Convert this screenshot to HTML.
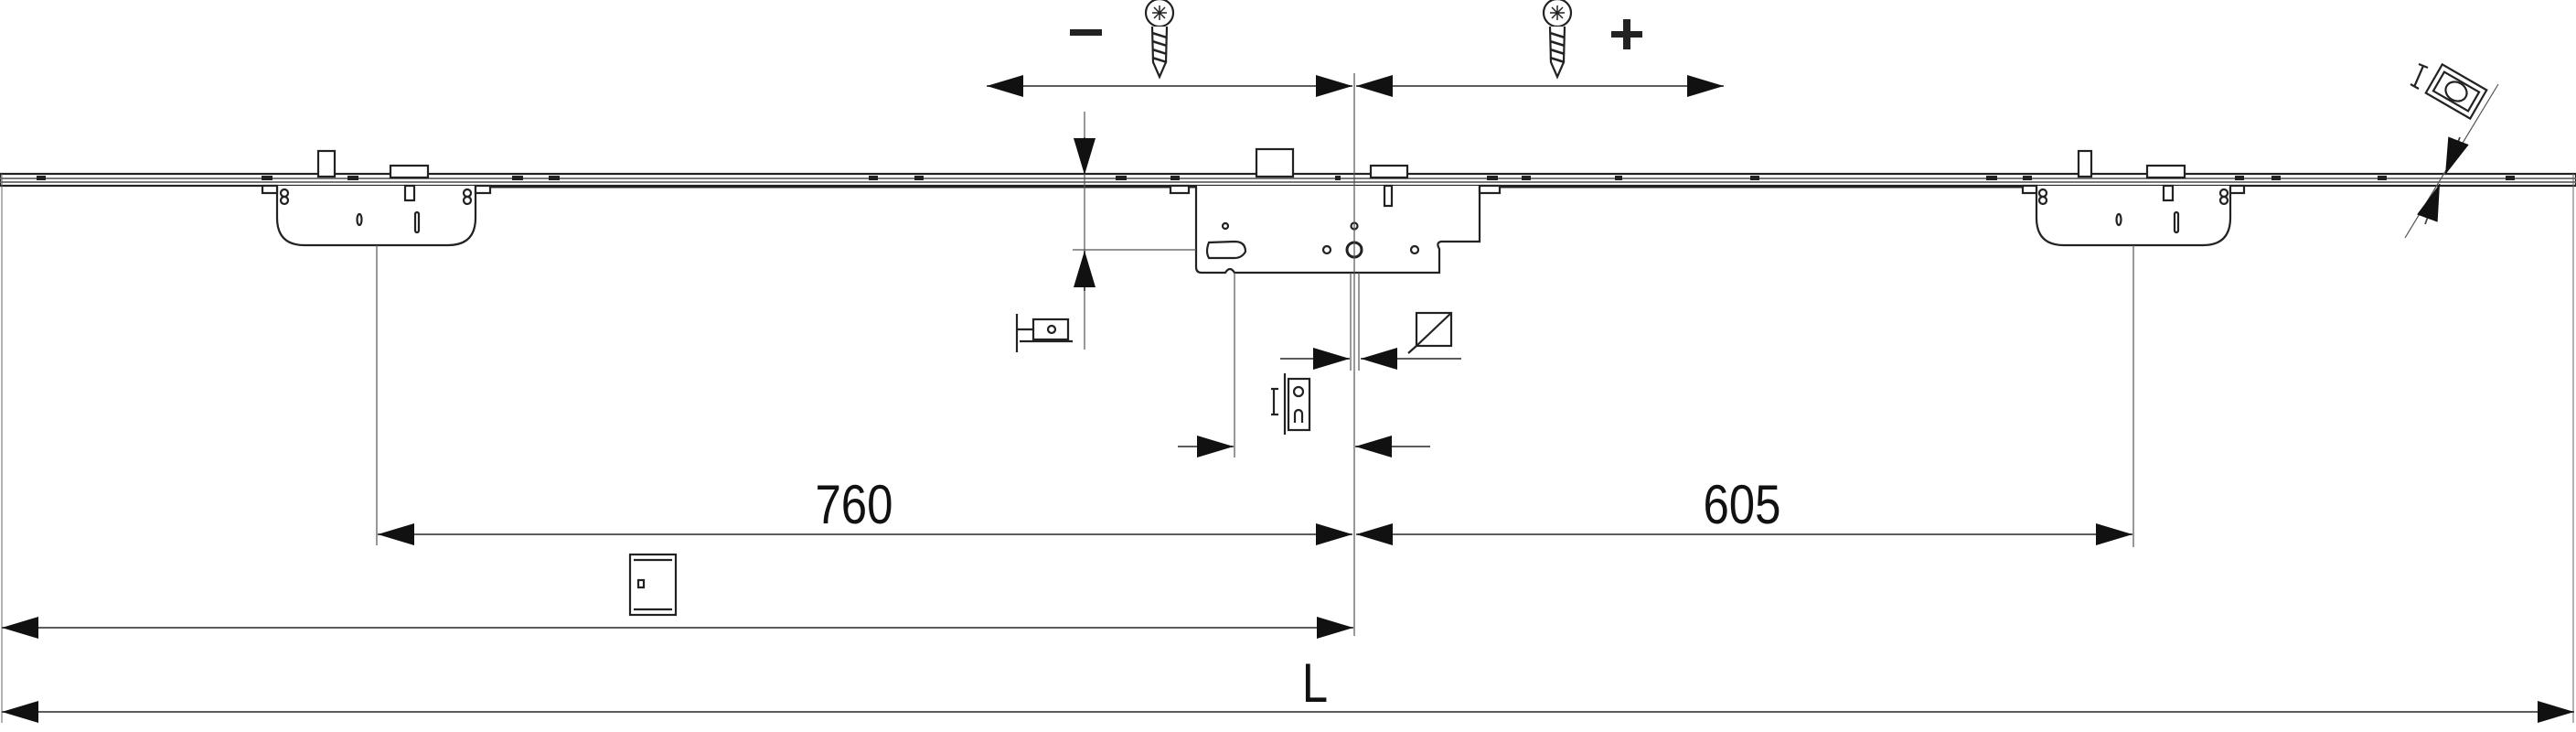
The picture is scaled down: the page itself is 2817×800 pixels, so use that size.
<!DOCTYPE html>
<html><head><meta charset="utf-8"><style>
html,body{margin:0;padding:0;background:#fff;width:2817px;height:800px;overflow:hidden}
svg{display:block}
text{font-family:"Liberation Sans",sans-serif;fill:#111}
</style></head><body>
<svg width="2817" height="800" viewBox="0 0 2817 800" xmlns="http://www.w3.org/2000/svg">
<defs>
<marker id="a" viewBox="0 0 40 24" refX="40" refY="12" markerWidth="40" markerHeight="24" markerUnits="userSpaceOnUse" orient="auto-start-reverse"><path d="M0,0 L40,12 L0,24 Z" fill="#111"/></marker>
</defs>
<g stroke="#333" fill="none" stroke-width="1.5">
<rect x="0" y="190" width="2817" height="13" fill="#fff" stroke="#222" stroke-width="2.2"/>
<line x1="0" y1="195" x2="2817" y2="195" stroke="#666" stroke-width="1.8"/>
<line x1="0" y1="199" x2="2817" y2="199" stroke="#666" stroke-width="1.8"/>
<line x1="300" y1="204" x2="2450" y2="204" stroke="#222" stroke-width="3"/>
<line x1="2" y1="190" x2="2" y2="790" stroke="#666" stroke-width="1"/>
<line x1="2814" y1="190" x2="2814" y2="790" stroke="#666" stroke-width="1"/>
</g>
<g fill="#222">
<rect x="40" y="192" width="10" height="5"/><rect x="286" y="192" width="12" height="5"/><rect x="380" y="192" width="12" height="5"/><rect x="560" y="192" width="12" height="5"/><rect x="600" y="192" width="12" height="5"/><rect x="950" y="192" width="10" height="5"/><rect x="1000" y="192" width="10" height="5"/><rect x="1220" y="192" width="12" height="5"/><rect x="1280" y="192" width="10" height="5"/><rect x="1460" y="192" width="6" height="5"/><rect x="1626" y="192" width="12" height="5"/><rect x="1664" y="192" width="10" height="5"/><rect x="1766" y="192" width="8" height="5"/><rect x="1914" y="192" width="10" height="5"/><rect x="2172" y="192" width="12" height="5"/><rect x="2212" y="192" width="10" height="5"/><rect x="2444" y="192" width="10" height="5"/><rect x="2484" y="192" width="10" height="5"/><rect x="2600" y="192" width="10" height="5"/><rect x="2740" y="192" width="10" height="5"/>
</g>
<g stroke="#222" fill="#fff" stroke-width="2.2">
<path d="M303,203 V238 Q303,268 333,268 H490 Q520,268 520,238 V203"/>
<rect x="348" y="165" width="18" height="28"/>
<rect x="427" y="181" width="41" height="13"/>
<rect x="443" y="203" width="10" height="16"/>
<rect x="287" y="203" width="16" height="8"/><rect x="520" y="203" width="16" height="8"/>
<circle cx="311" cy="211" r="4"/><circle cx="311" cy="219" r="4"/><circle cx="511" cy="211" r="4"/><circle cx="511" cy="219" r="4"/>
<ellipse cx="393" cy="240" rx="2.5" ry="6"/><rect x="454" y="232" width="4" height="22" rx="2"/>
<path d="M2227,203 V238 Q2227,268 2257,268 H2409 Q2439,268 2439,238 V203"/>
<rect x="2273" y="165" width="14" height="28"/>
<rect x="2348" y="181" width="41" height="13"/>
<rect x="2366" y="203" width="10" height="16"/>
<rect x="2212" y="203" width="15" height="8"/><rect x="2439" y="203" width="15" height="8"/>
<circle cx="2234" cy="211" r="4"/><circle cx="2234" cy="219" r="4"/><circle cx="2432" cy="211" r="4"/><circle cx="2432" cy="219" r="4"/>
<ellipse cx="2317" cy="240" rx="2.5" ry="6"/><rect x="2378" y="232" width="4" height="22" rx="2"/>
<path d="M1308,203 V292 Q1308,298 1314,298 H1340 Q1345,290 1350,298 H1574 V272 Q1570,265 1576,264 H1618 V203"/>
<rect x="1374" y="163" width="40" height="30"/>
<rect x="1499" y="181" width="40" height="13"/>
<rect x="1514" y="203" width="8" height="22"/>
<rect x="1280" y="203" width="20" height="8"/><rect x="1618" y="203" width="22" height="8"/>
<path d="M1322,265 Q1318,275 1322,282 H1350 Q1358,282 1362,275 Q1362,264 1350,264 Z"/>
<circle cx="1340" cy="247" r="3"/><circle cx="1481" cy="247" r="3.5"/><circle cx="1451" cy="273" r="4"/><circle cx="1547" cy="273" r="4"/>
<circle cx="1481" cy="273" r="8" stroke-width="3"/>
</g>
<g stroke="#555" fill="none" stroke-width="1.2">
<line x1="1481" y1="80" x2="1481" y2="695"/>
<line x1="412" y1="268" x2="412" y2="596"/>
<line x1="2333" y1="268" x2="2333" y2="598"/>
<line x1="1350" y1="298" x2="1350" y2="500"/>
<line x1="1477" y1="298" x2="1477" y2="405"/>
<line x1="1486" y1="298" x2="1486" y2="405"/>
<line x1="1186" y1="122" x2="1186" y2="382"/>
<line x1="1173" y1="273" x2="1308" y2="273"/>
<line x1="2732" y1="92" x2="2630" y2="260"/>
</g>
<g stroke="#444" stroke-width="1.8" fill="none">
<line x1="1079" y1="94" x2="1479" y2="94" marker-start="url(#a)" marker-end="url(#a)"/>
<line x1="1483" y1="94" x2="1885" y2="94" marker-start="url(#a)" marker-end="url(#a)"/>
<line x1="1186" y1="150" x2="1186" y2="191" marker-end="url(#a)"/>
<line x1="1186" y1="318" x2="1186" y2="274" marker-end="url(#a)"/>
<line x1="1400" y1="392" x2="1476" y2="392" marker-end="url(#a)"/>
<line x1="1598" y1="392" x2="1488" y2="392" marker-end="url(#a)"/>
<line x1="1288" y1="488" x2="1349" y2="488" marker-end="url(#a)"/>
<line x1="1564" y1="488" x2="1482" y2="488" marker-end="url(#a)"/>
<line x1="413" y1="584" x2="1479" y2="584" marker-start="url(#a)" marker-end="url(#a)"/>
<line x1="1483" y1="584" x2="2332" y2="584" marker-start="url(#a)" marker-end="url(#a)"/>
<line x1="2" y1="686" x2="1480" y2="686" marker-start="url(#a)" marker-end="url(#a)"/>
<line x1="2" y1="778" x2="2815" y2="778" marker-start="url(#a)" marker-end="url(#a)"/>
<line x1="2690" y1="150" x2="2674" y2="191" marker-end="url(#a)"/>
<line x1="2652" y1="245" x2="2668" y2="201" marker-end="url(#a)"/>
</g>
<g stroke="#222" fill="#fff" stroke-width="2.2">
<g transform="translate(1268,0)"><circle cx="0" cy="14" r="15"/><path d="M-8,14 H8 M0,6 V22 M-6,8 L6,20 M6,8 L-6,20" stroke-width="1.5"/><path d="M-8,29 L-7,68 L0,84 L7,68 L8,29"/><path d="M-8,36 L8,41 M-8,45 L8,50 M-8,54 L8,59 M-8,63 L8,68" stroke-width="2.5"/></g>
<g transform="translate(1703,0)"><circle cx="0" cy="14" r="15"/><path d="M-8,14 H8 M0,6 V22 M-6,8 L6,20 M6,8 L-6,20" stroke-width="1.5"/><path d="M-8,29 L-7,68 L0,84 L7,68 L8,29"/><path d="M-8,36 L8,41 M-8,45 L8,50 M-8,54 L8,59 M-8,63 L8,68" stroke-width="2.5"/></g>
</g>
<rect x="1170" y="32" width="35" height="7" fill="#222"/>
<rect x="1762" y="34" width="34" height="7" fill="#222"/><rect x="1775" y="21" width="8" height="33" fill="#222"/>
<g stroke="#222" fill="#fff" stroke-width="2.2">
<rect x="1130" y="349" width="38" height="22"/><circle cx="1150" cy="360" r="4"/><line x1="1115" y1="373" x2="1173" y2="373"/><line x1="1112" y1="343" x2="1112" y2="385"/><line x1="1112" y1="360" x2="1130" y2="360"/>
<rect x="1549" y="342" width="38" height="36"/><line x1="1549" y1="378" x2="1587" y2="342"/><line x1="1540" y1="386" x2="1549" y2="378"/>
<rect x="1409" y="414" width="23" height="56"/><circle cx="1420" cy="428" r="5"/><path d="M1416,462 V452 A4,4 0 1 1 1424,452 V462"/><line x1="1405" y1="408" x2="1405" y2="475"/><line x1="1393" y1="425" x2="1393" y2="453"/><line x1="1390" y1="425" x2="1398" y2="425"/><line x1="1390" y1="453" x2="1398" y2="453"/>
<rect x="689" y="606" width="50" height="66"/><line x1="693" y1="612" x2="735" y2="612"/><line x1="693" y1="666" x2="735" y2="666"/><rect x="698" y="634" width="6" height="8"/>
<g transform="translate(2686,100) rotate(30)"><rect x="-28" y="-18" width="56" height="36"/><rect x="-22" y="-12" width="44" height="24"/><ellipse cx="0" cy="0" rx="12" ry="10"/></g>
<path d="M2650,72 L2640,95 M2645,70 L2655,74 M2636,92 L2645,97"/>
</g>
<text x="934" y="572" font-size="60" text-anchor="middle" transform="translate(934 0) scale(0.85 1) translate(-934 0)">760</text>
<text x="1905" y="572" font-size="60" text-anchor="middle" transform="translate(1905 0) scale(0.85 1) translate(-1905 0)">605</text>
<text x="1438" y="767" font-size="60" text-anchor="middle" transform="translate(1438 0) scale(0.85 1) translate(-1438 0)">L</text>
</svg>
</body></html>
